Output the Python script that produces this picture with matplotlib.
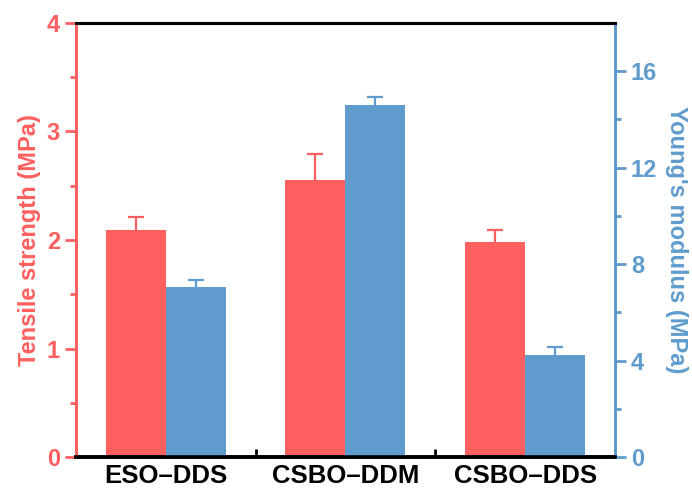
import matplotlib.pyplot as plt
from matplotlib.ticker import MultipleLocator, FixedLocator
import numpy as np

plt.rcParams['font.family'] = ['Liberation Sans', 'DejaVu Sans']
plt.rcParams['font.weight'] = 'bold'

categories = ["ESO\u2013DDS", "CSBO\u2013DDM", "CSBO\u2013DDS"]
tensile = [2.09, 2.55, 1.98]
tensile_err = [0.12, 0.24, 0.11]
modulus = [7.05, 14.6, 4.25]
modulus_err = [0.3, 0.33, 0.3]

red = "#FF5F5F"
blue = "#5F9BCD"

fig = plt.figure(figsize=(6.92, 4.88), dpi=100)
ax = fig.add_axes([0.1098, 0.0635, 0.7789, 0.8894])
ax2 = ax.twinx()

x = np.arange(1, len(categories) + 1)
w = 0.334


def upper_err(a, xs, ys, errs, color):
    # one-sided error bar: stem from bar top plus a cap
    tops = np.array(ys) + np.array(errs)
    a.vlines(xs, ys, tops, color=color, lw=1.6, zorder=1)
    a.plot(xs, tops, ls="none", marker="_", ms=12, mew=1.6, color=color, zorder=1)


ax.bar(x - w / 2, tensile, w, color=red, zorder=2)
upper_err(ax, x - w / 2, tensile, tensile_err, red)
ax2.bar(x + w / 2, modulus, w, color=blue, zorder=2)
upper_err(ax2, x + w / 2, modulus, modulus_err, blue)

ax.set_xlim(0.5, 3.5)
ax.set_ylim(0, 4)
ax2.set_ylim(0, 18)

ax.set_xticks(x)
ax.set_xticklabels(categories, fontsize=18.5, fontweight="bold")
ax.xaxis.set_minor_locator(FixedLocator([1.5, 2.5]))
ax.tick_params(axis="x", which="major", length=0, pad=5)
ax.tick_params(axis="x", which="minor", direction="in", length=6, width=2, color="black")

ax.yaxis.set_major_locator(MultipleLocator(1))
ax.yaxis.set_minor_locator(MultipleLocator(0.5))
ax.tick_params(axis="y", which="major", direction="out", length=8, width=2,
               color=red, labelcolor=red, labelsize=17)
ax.tick_params(axis="y", which="minor", direction="out", length=4, width=2, color=red)

ax2.yaxis.set_major_locator(MultipleLocator(4))
ax2.yaxis.set_minor_locator(FixedLocator([2, 6, 10, 14]))
ax2.tick_params(axis="y", which="major", direction="out", length=8, width=2,
                color=blue, labelcolor=blue, labelsize=17)
ax2.tick_params(axis="y", which="minor", direction="out", length=4, width=2, color=blue)

ax.set_ylabel("Tensile strength (MPa)", color=red, fontsize=17, fontweight="bold")
ax2.set_ylabel("Young's modulus (MPa)", color=blue, fontsize=17, fontweight="bold",
               rotation=270, va="center")
ax.yaxis.set_label_coords(-0.065, 0.5)
ax2.yaxis.set_label_coords(1.115, 0.5)

for a in (ax, ax2):
    a.spines["top"].set_linewidth(2.2)
    a.spines["bottom"].set_linewidth(2.6)
    a.spines["left"].set_color(red)
    a.spines["left"].set_linewidth(2)
    a.spines["right"].set_color(blue)
    a.spines["right"].set_linewidth(2)

fig.savefig("out.png", dpi=100)
